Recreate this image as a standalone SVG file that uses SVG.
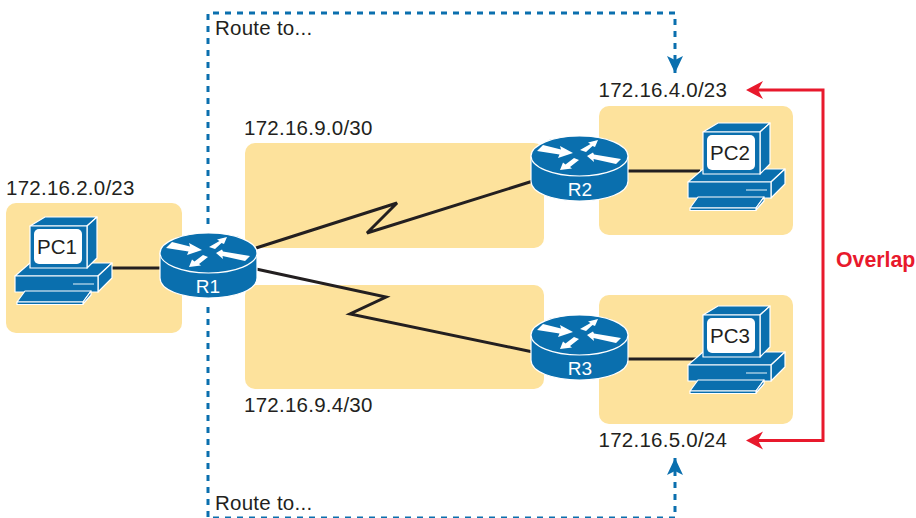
<svg xmlns="http://www.w3.org/2000/svg" width="916" height="518" viewBox="0 0 916 518">
<style>
.area{fill:#fde29c}
.lbl{font-family:"Liberation Sans",Arial,sans-serif;font-size:20.5px;fill:#231f20;letter-spacing:.25px}
.dev{fill:#0a6fae;stroke:#fff;stroke-width:1.2;stroke-linejoin:round}
.wh{fill:#fff}
.rt{font-family:"Liberation Sans",Arial,sans-serif;font-size:19px;fill:#fff;text-anchor:middle}
.pc{font-family:"Liberation Sans",Arial,sans-serif;font-size:20.5px;fill:#231f20;text-anchor:middle}
.link{fill:none;stroke:#231f20;stroke-width:3;stroke-linejoin:miter}
.dash{fill:none;stroke:#0a6fae;stroke-width:3;stroke-dasharray:6 6}
.red{fill:none;stroke:#e8192c;stroke-width:3}
</style>
<defs>
<marker id="ab" markerUnits="userSpaceOnUse" markerWidth="18" markerHeight="16" refX="17" refY="8" orient="auto"><path d="M0 0L17 8L0 16L4 8Z" fill="#0a6fae"/></marker>
<g id="router">
<path class="dev" d="M160 253V278C160 290 182 298 208.500 298S257 290 257 278V253Z"/>
<ellipse class="dev" cx="208.500" cy="253" rx="48.500" ry="20"/>
<polygon class="wh" points="166,248 172,242 190,246.500 189,243 202,250 187,255 188.500,251.500"/>
<polygon class="wh" points="209,247 219.500,241 217,239.500 227,237 224,244 221.500,243 215,249"/>
<polygon class="wh" points="216,253 222,249.500 223,251.500 250,256 245,261 222.500,256 223,259"/>
<polygon class="wh" points="189,267 192,259.500 194.500,261.500 203,255 208,257 199,264 201,265.500"/>
</g>
<g id="pc">
<polygon class="dev" points="15,276 30,263 112,263 98,276"/>
<polygon class="dev" points="98,276 112,263 112,278 98,292"/>
<rect class="dev" x="15" y="276" width="83" height="16"/>
<line x1="73" y1="284" x2="94" y2="284" stroke="#9fc9e0" stroke-width="1.500"/>
<polygon class="dev" points="30,226 45,217 97,217 87,226"/>
<polygon class="dev" points="87,226 97,217 97,258 87,268"/>
<rect class="dev" x="30" y="226" width="57" height="42"/>
<rect class="wh" x="34" y="229" width="48" height="35" rx="5"/>
<polygon class="dev" points="17,302 25,291 91,291 83,302"/>
<polygon class="dev" points="83,302 91,291 91,295 83,304"/>
<rect class="dev" x="17" y="302" width="66" height="2.500"/>
</g>
</defs>

<g id="subnets">
<rect id="lan-pc1" class="area" x="6" y="203" width="176" height="130" rx="10"/>
<rect id="lan-pc2" class="area" x="599" y="106" width="194" height="129" rx="10"/>
<rect id="lan-pc3" class="area" x="599" y="295" width="194" height="129" rx="10"/>
<rect id="wan-top" class="area" x="245" y="143" width="299" height="105" rx="10"/>
<rect id="wan-bottom" class="area" x="245" y="285" width="299" height="104" rx="10"/>
</g>

<g id="connectors">
<path class="link" d="M112 268H162"/>
<path class="link" d="M256 248L397 203L367 233L533 181"/>
<path class="link" d="M256 269L386 297L350 314L533 352"/>
<path class="link" d="M627 171H700"/>
<path class="link" d="M627 359H696"/>
<path class="dash" d="M208 224V13H675V73" marker-end="url(#ab)"/>
<path class="dash" d="M208 307V518H675V458" marker-end="url(#ab)"/>
<path class="red" d="M757 90H823V440.500H757"/>
<path d="M746 90L763 81L758 90L763 99Z" fill="#e8192c"/>
<path d="M746 440.500L763 431.500L758 440.500L763 449.500Z" fill="#e8192c"/>
</g>

<g id="PC1"><use href="#pc"/><text class="pc" x="57" y="254">PC1</text></g>
<g id="PC2"><use href="#pc" x="673" y="-94"/><text class="pc" x="730" y="160">PC2</text></g>
<g id="PC3"><use href="#pc" x="673" y="89"/><text class="pc" x="730" y="343">PC3</text></g>
<g id="R1"><use href="#router"/><text class="rt" x="208" y="293">R1</text></g>
<g id="R2"><use href="#router" x="371" y="-97"/><text class="rt" x="580" y="196">R2</text></g>
<g id="R3"><use href="#router" x="371" y="82"/><text class="rt" x="580" y="375">R3</text></g>

<g id="labels">
<text class="lbl" x="6" y="195">172.16.2.0/23</text>
<text class="lbl" x="244" y="135">172.16.9.0/30</text>
<text class="lbl" x="244" y="412">172.16.9.4/30</text>
<text class="lbl" x="598.500" y="97">172.16.4.0/23</text>
<text class="lbl" x="598.500" y="447">172.16.5.0/24</text>
<text class="lbl" x="215" y="35">Route to...</text>
<text class="lbl" x="215" y="510">Route to...</text>
<text x="836" y="267" font-family="'Liberation Sans',Arial,sans-serif" font-size="21.300px" font-weight="bold" fill="#e8192c">Overlap</text>
</g>
</svg>
